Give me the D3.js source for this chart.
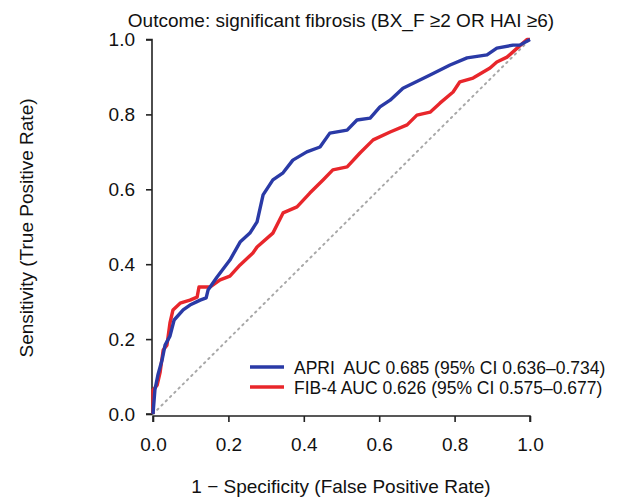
<!DOCTYPE html>
<html>
<head>
<meta charset="UTF-8">
<script src="https://cdn.jsdelivr.net/npm/d3@7"></script>
<style>
  body { margin: 0; background: #fff; }
  text { font-family: "Liberation Sans", Arial, sans-serif; fill: #111; }
</style>
</head>
<body>
<svg id="roc" width="621" height="499"></svg>
<script>
// ROC points: [FPR, TPR]
const apriFpr = [0, 0.005, 0.013, 0.024, 0.032, 0.045, 0.056, 0.080, 0.098, 0.125, 0.141, 0.146, 0.170, 0.204, 0.231, 0.257, 0.276, 0.292, 0.318, 0.345, 0.371, 0.408, 0.443, 0.469, 0.515, 0.541, 0.576, 0.602, 0.629, 0.663, 0.735, 0.788, 0.833, 0.886, 0.912, 0.955, 0.973, 1];
const apriTpr = [0, 0.064, 0.104, 0.144, 0.184, 0.208, 0.251, 0.278, 0.291, 0.304, 0.310, 0.331, 0.366, 0.411, 0.459, 0.483, 0.513, 0.585, 0.625, 0.644, 0.678, 0.700, 0.713, 0.750, 0.758, 0.785, 0.790, 0.820, 0.838, 0.870, 0.905, 0.932, 0.951, 0.959, 0.977, 0.985, 0.985, 1];
const fibFpr = [0, 0, 0.011, 0.019, 0.027, 0.037, 0.045, 0.053, 0.072, 0.098, 0.117, 0.122, 0.151, 0.178, 0.204, 0.231, 0.265, 0.276, 0.318, 0.345, 0.382, 0.416, 0.451, 0.477, 0.515, 0.549, 0.584, 0.629, 0.674, 0.700, 0.735, 0.761, 0.796, 0.814, 0.849, 0.894, 0.912, 0.939, 0.966, 0.992, 1];
const fibTpr = [0, 0.064, 0.077, 0.112, 0.171, 0.184, 0.243, 0.278, 0.296, 0.304, 0.312, 0.339, 0.339, 0.358, 0.368, 0.398, 0.430, 0.446, 0.483, 0.537, 0.553, 0.590, 0.625, 0.652, 0.660, 0.697, 0.732, 0.753, 0.772, 0.798, 0.806, 0.830, 0.860, 0.887, 0.897, 0.924, 0.940, 0.953, 0.977, 1, 1];
const tickVals = [0, 0.2, 0.4, 0.6, 0.8, 1.0];
const legendLabels = ["APRI  AUC 0.685 (95% CI 0.636\u20130.734)", "FIB-4 AUC 0.626 (95% CI 0.575\u20130.677)"];
const colors = ["#2a3aa6", "#e8262b"];

const svg = d3.select("#roc");
const x = d3.scaleLinear().domain([0, 1]).range([153, 530]);
const y = d3.scaleLinear().domain([0, 1]).range([414, 39.5]);

// chance line
svg.append("line")
  .attr("x1", x(0)).attr("y1", y(0)).attr("x2", x(1)).attr("y2", y(1))
  .attr("stroke", "#a8a8a8").attr("stroke-width", 2)
  .attr("stroke-dasharray", "1.5 4.5").attr("stroke-linecap", "round");

// axes (R style: line spans only tick range)
const xAxis = svg.append("g").attr("transform", `translate(0,${y(0) + 2})`)
  .call(d3.axisBottom(x).tickValues(tickVals).tickFormat(d3.format(".1f")).tickSize(6).tickPadding(16));
const yAxis = svg.append("g").attr("transform", `translate(${x(0) - 1},0)`)
  .call(d3.axisLeft(y).tickValues(tickVals).tickFormat(d3.format(".1f")).tickSize(6).tickPadding(11));
[xAxis, yAxis].forEach(g => {
  g.attr("font-size", 19).attr("font-family", "Liberation Sans, Arial, sans-serif");
  g.select(".domain").attr("stroke", "#222").attr("stroke-width", 1.6);
  g.selectAll(".tick line").attr("stroke", "#222").attr("stroke-width", 1.6);
  g.selectAll(".tick text").attr("fill", "#111");
});
xAxis.select(".domain").attr("d", `M${x(0)},6V0H${x(1)}V6`);
yAxis.select(".domain").attr("d", `M-6,${y(0)}H0V${y(1)}H-6`);

// curves
const line = d3.line().x(d => x(d[0])).y(d => y(d[1]));
const series = [d3.zip(apriFpr, apriTpr), d3.zip(fibFpr, fibTpr)];
series.slice().reverse().forEach((s, i) => {
  svg.append("path").datum(s)
    .attr("fill", "none")
    .attr("stroke", colors[1 - i])
    .attr("stroke-width", 3.4)
    .attr("stroke-linejoin", "round")
    .attr("d", line);
});

// legend
legendLabels.forEach((lab, i) => {
  const ly = 367 + i * 20;
  svg.append("line").attr("x1", 250).attr("x2", 284).attr("y1", ly).attr("y2", ly)
    .attr("stroke", colors[i]).attr("stroke-width", 3.6);
  svg.append("text").attr("x", 294).attr("y", ly + 6.5).attr("font-size", 17.5)
    .style("white-space", "pre").text(lab);
});

// titles
svg.append("text").attr("x", 341).attr("y", 27).attr("text-anchor", "middle")
  .attr("font-size", 19).text("Outcome: significant fibrosis (BX_F \u22652 OR HAI \u22656)");
svg.append("text").attr("x", 341).attr("y", 493).attr("text-anchor", "middle")
  .attr("font-size", 19).text("1 \u2212 Specificity (False Positive Rate)");
svg.append("text").attr("transform", "translate(33,228) rotate(-90)").attr("text-anchor", "middle")
  .attr("font-size", 19).text("Sensitivity (True Positive Rate)");
</script>
</body>
</html>
